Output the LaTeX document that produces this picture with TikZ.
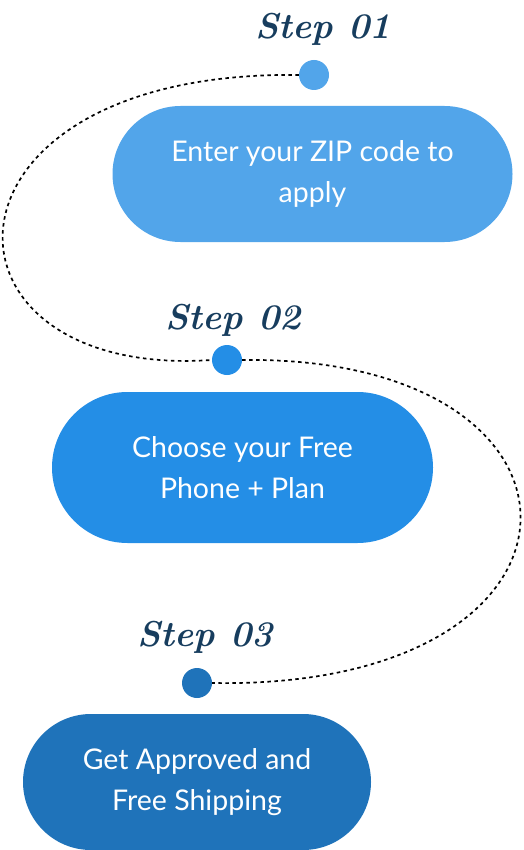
\documentclass[tikz,border=0pt]{standalone}
\usepackage{fontspec}
\setmainfont{Lato}
\newfontfamily\stepfont{Latin Modern Roman}
\usepackage{tikz}
\usetikzlibrary{shapes.misc,positioning,calc}
\definecolor{stepone}{HTML}{52A5EA}
\definecolor{steptwo}{HTML}{248EE6}
\definecolor{stepthree}{HTML}{1F73BA}
\definecolor{steplabel}{HTML}{173D5E}
\tikzset{>=latex}

\begin{document}
\begin{tikzpicture}[x=1pt,y=-1pt,
		pill/.style={rounded rectangle,inner sep=0pt,text=white,align=center,
			font=\fontsize{28.5}{41}\selectfont},
		stepdot/.style={circle,inner sep=0pt,minimum size=30pt},
		steptitle/.style={anchor=base,text=steplabel,
			font=\stepfont\fontsize{36}{36}\selectfont\bfseries\itshape},
		trail/.style={line width=1.7pt,dash pattern=on 3.5pt off 3.5pt}]
	\useasboundingbox (0,0) rectangle (523,850);
	% pills
	\node[pill,fill=stepone,minimum width=400pt,minimum height=136pt] (box1) at (312.5,174) {Enter your ZIP code to\\apply};
	\node[pill,fill=steptwo,minimum width=381pt,minimum height=151pt] (box2) at (242.5,467.5) {Choose your Free\\Phone + Plan};
	\node[pill,fill=stepthree,minimum width=348pt,minimum height=136pt] (box3) at (197,782) {Get Approved and\\Free Shipping};
	% dots
	\node[stepdot,fill=stepone] (dot1) at (314,75) {};
	\node[stepdot,fill=steptwo] (dot2) at (227,360) {};
	\node[stepdot,fill=stepthree] (dot3) at (197,683) {};
	% labels
	\node[steptitle] (lab1) at (323,39) {Step 01};
	\node[steptitle] (lab2) at (233,329) {Step 02};
	\node[steptitle] (lab3) at (205,646) {Step 03};
	% dotted trail
	\draw[trail] (dot1.west) .. controls +(-379,-5) and +(-292,20) .. (dot2.west);
	\draw[trail] (dot2.east) .. controls +(376,-5) and +(406,7) .. (dot3.east);
\end{tikzpicture}
\end{document}
